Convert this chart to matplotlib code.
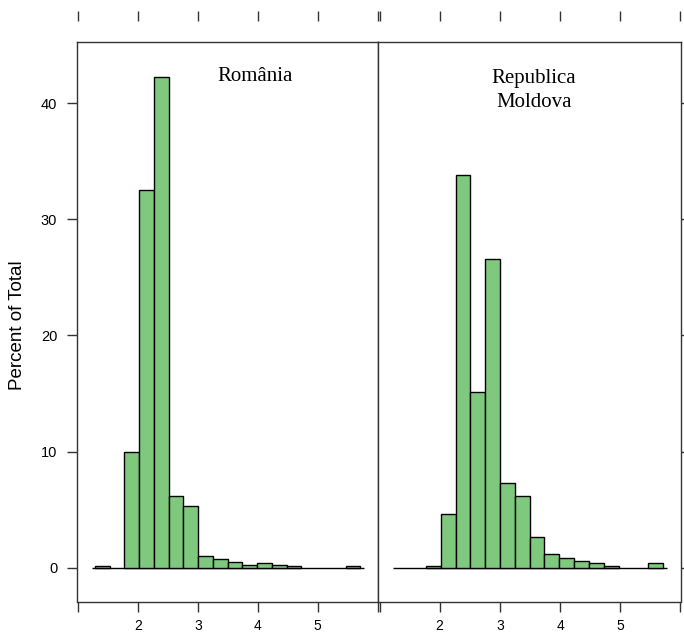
import numpy as np
import matplotlib
matplotlib.use("Agg")
import matplotlib.pyplot as plt

# bins used by both panels (18 equal bins)
bin_edges = np.linspace(1.28, 5.71, 19)

panel_titles = ["România", "Republica\nMoldova"]

# percent of total per bin
romania = [0.1, 0.0, 10.0, 32.5, 42.3, 6.2, 5.3, 1.0, 0.75, 0.45,
           0.2, 0.4, 0.25, 0.1, 0.0, 0.0, 0.0, 0.1]
moldova = [0.0, 0.0, 0.1, 4.65, 33.8, 15.1, 26.6, 7.25, 6.2, 2.65,
           1.15, 0.85, 0.55, 0.35, 0.1, 0.0, 0.0, 0.35]

xticks = [1, 2, 3, 4, 5, 6]
xticklabels = ["", "2", "3", "4", "5", ""]
yticks = [0, 10, 20, 30, 40]

W, H = 684, 632
fig = plt.figure(figsize=(W / 100, H / 100), dpi=100)


def px_box(x0, x1, ytop, ybot):
    return [x0 / W, 1 - ybot / H, (x1 - x0) / W, (ybot - ytop) / H]


frame_col = "#333333"
tick_len = 7.2
sans = "Liberation Sans"
serif = "Liberation Serif"

ax1 = fig.add_axes(px_box(77, 378.3, 42, 601.5))
ax2 = fig.add_axes(px_box(378.3, 681, 42, 601.5))

widths = np.diff(bin_edges)
for ax, vals, title in [(ax1, romania, panel_titles[0]), (ax2, moldova, panel_titles[1])]:
    ax.hlines(0, 1.23, 5.77, color="black", lw=1.0, zorder=1)
    keep = [i for i, v in enumerate(vals) if v > 0]
    ax.bar(bin_edges[:-1][keep], np.array(vals)[keep], width=widths[keep], align="edge",
           color="#7FC97F", edgecolor="black", linewidth=1.0, zorder=2)
    ax.set_xlim(0.98, 6.01)
    ax.set_ylim(-2.93, 45.3)
    for s in ax.spines.values():
        s.set_color(frame_col)
        s.set_linewidth(1.0)
    ax.set_xticks(xticks)
    ax.set_xticklabels(xticklabels, fontfamily=sans, fontsize=10)
    ax.tick_params(axis="x", direction="out", length=tick_len, width=1.0,
                   color=frame_col, pad=5.5)
    # detached ticks on top, as in the lattice layout
    sec = ax.secondary_xaxis(1 + 21 / 559.5)
    sec.set_xticks(xticks)
    sec.set_xticklabels([])
    sec.spines["top"].set_visible(False)
    sec.tick_params(direction="out", length=tick_len, width=1.0, color=frame_col)

ax1.set_yticks(yticks)
ax1.set_yticklabels([str(v) for v in yticks], fontfamily=sans, fontsize=10.5)
ax1.tick_params(axis="y", direction="out", length=tick_len, width=1.0,
                color=frame_col, pad=7, left=True, right=False)

ax2.set_yticks(yticks)
ax2.tick_params(axis="y", direction="out", length=tick_len, width=1.0,
                color=frame_col, left=False, right=True,
                labelleft=False, labelright=False)

ax1.text(0.591, 0.9375, panel_titles[0], transform=ax1.transAxes,
         ha="center", va="center", fontfamily=serif, fontsize=15)
ax2.text(0.514, 0.914, panel_titles[1], transform=ax2.transAxes,
         ha="center", va="center", fontfamily=serif, fontsize=15,
         linespacing=1.35, multialignment="center")

fig.text(17.5 / W, 1 - 325 / H, "Percent of Total", rotation=90,
         ha="center", va="center", fontfamily=sans, fontsize=13.5)

fig.savefig("out.png", dpi=100)
